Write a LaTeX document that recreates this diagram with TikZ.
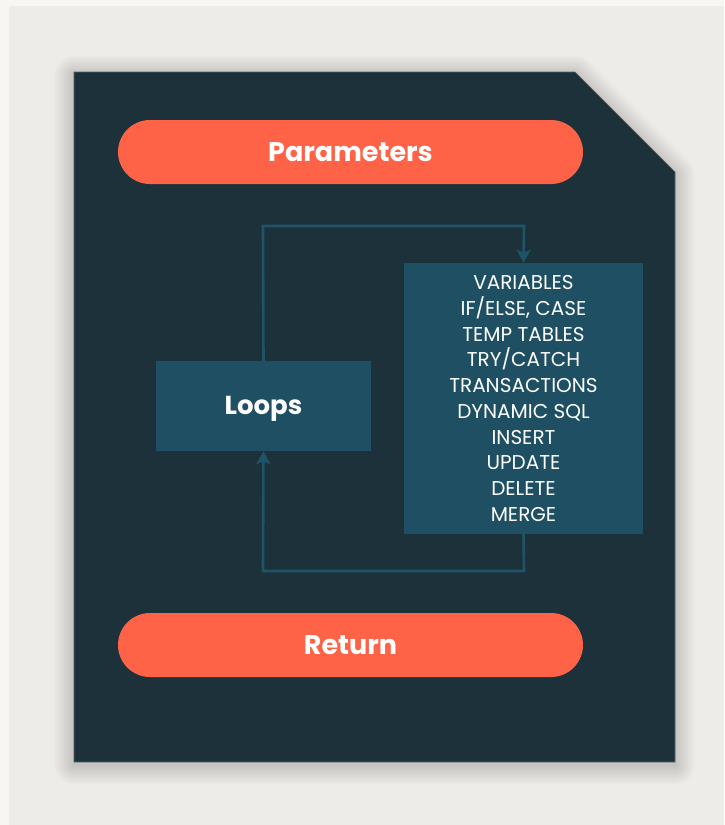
\documentclass[tikz,border=0pt]{standalone}
\usepackage{fontspec}
\setmainfont{Poppins}
\usetikzlibrary{arrows.meta}
\definecolor{pagebg}{HTML}{F7F6F2}
\definecolor{panelbg}{HTML}{EDECE8}
\definecolor{cardbg}{HTML}{1C313A}
\definecolor{boxbg}{HTML}{1E4F62}
\definecolor{linecol}{HTML}{1F5468}
\definecolor{pillred}{HTML}{FF6347}
\tikzset{
  pill/.style={fill=pillred, rounded corners=32pt, minimum width=465pt, minimum height=64pt,
    text=white, font=\fontsize{27}{32}\selectfont\bfseries, inner sep=0pt},
  bluebox/.style={fill=boxbg, text=white, inner sep=0pt},
  flow/.style={draw=linecol, line width=2.6pt, -{Stealth[length=13pt,width=14pt,inset=3pt]}},
}
\begin{document}
\begin{tikzpicture}[x=1pt,y=-1pt]
  % page and panel
  \fill[pagebg] (0,0) rectangle (724,825);
  \fill[panelbg] (9,6) rectangle (724,825);
  \useasboundingbox (0,0) rectangle (724,825);
  % soft shadow of the card, built from stacked strokes
  \foreach \w in {40,38,...,2}{
    \draw[black, opacity=0.006, line width=\w pt, line join=round]
      (74,75) -- (575,75) -- (675,175) -- (675,765) -- (74,765) -- cycle;
  }
  % card with cut corner
  \fill[cardbg, draw=cardbg!75!white, line width=0.6pt]
    (74,72) -- (575,72) -- (675,172) -- (675,762) -- (74,762) -- cycle;
  % headers
  \node[pill] (params) at (350.5,152) {Parameters};
  \node[pill] (ret) at (350.5,645) {Return};
  % loop body
  \node[bluebox, minimum width=215pt, minimum height=90pt,
    label={[text=white, font=\fontsize{26}{30}\selectfont\bfseries, yshift=-3pt]center:Loops}]
    (loops) at (263.5,406) {};
  \node[bluebox, minimum width=239pt, minimum height=271pt, align=center,
    font=\fontsize{20}{25.7}\selectfont] (stmts) at (523.5,398.5)
    {VARIABLES\\IF/ELSE, CASE\\TEMP TABLES\\TRY/CATCH\\TRANSACTIONS\\DYNAMIC SQL\\INSERT\\UPDATE\\DELETE\\MERGE};
  % loop connectors
  \coordinate (c1) at (263,226);
  \coordinate (c2) at (524,226);
  \coordinate (c3) at (524,571);
  \coordinate (c4) at (263,571);
  \draw[flow] (loops.north) -- (c1) -- (c2) -- (stmts.north);
  \draw[flow] (stmts.south) -- (c3) -- (c4) -- (loops.south);
\end{tikzpicture}
\end{document}
